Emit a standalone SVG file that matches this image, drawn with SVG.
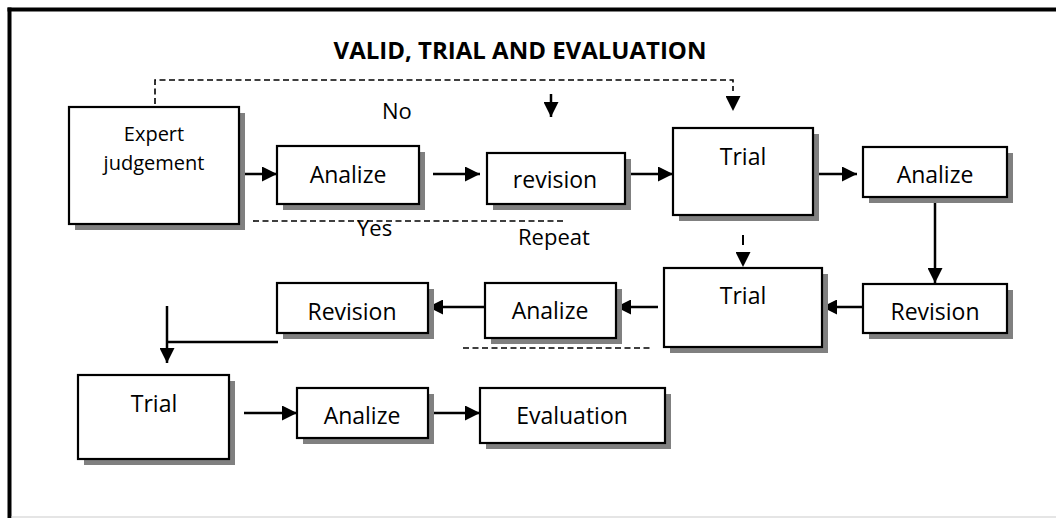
<svg xmlns="http://www.w3.org/2000/svg" width="1056" height="518" viewBox="0 0 1056 518">
  <style>
    .box{fill:#fff;stroke:#000;stroke-width:2.2}
    .shadow{fill:#808080}
    .t{font-family:"Open Sans","Liberation Sans",sans-serif;font-size:23px;fill:#000;text-anchor:middle}
    .ts{font-size:20px}
    .lbl{font-family:"Open Sans","Liberation Sans",sans-serif;font-size:22px;fill:#000}
    .title{font-family:"Open Sans","Liberation Sans",sans-serif;font-size:24px;font-weight:bold;fill:#000;text-anchor:middle}
    .c{fill:none;stroke:#000;stroke-width:2.5}
    .ca{fill:none;stroke:#000;stroke-width:2.5;marker-end:url(#ah)}
    .d{fill:none;stroke:#000;stroke-width:1.6;stroke-dasharray:6 3.5}
    .head{fill:none;stroke:none;marker-end:url(#ah)}
  </style>
  <defs>
    <marker id="ah" viewBox="0 0 15 15" refX="15" refY="7.5" markerWidth="15" markerHeight="15" markerUnits="userSpaceOnUse" orient="auto">
      <path d="M0,0 L15,7.5 L0,15 z" fill="#000"/>
    </marker>
  </defs>
  <rect width="1056" height="518" fill="#fff"/>
  <!-- frame -->
  <line x1="7.5" y1="9.5" x2="1056" y2="9.5" stroke="#000" stroke-width="4"/>
  <line x1="9.5" y1="7.5" x2="9.5" y2="518" stroke="#000" stroke-width="4"/>
  <line x1="11.5" y1="517" x2="1056" y2="517" stroke="#dcdcdc" stroke-width="1.5"/>

  <text class="title" x="520" y="59">VALID, TRIAL AND EVALUATION</text>

  <g id="connectors">
    <line class="ca" x1="242" y1="174" x2="277" y2="174"/>
    <path class="d" d="M155,104 V80 H733 V91"/>
    <path class="head" d="M733,97 V111"/>
    <line class="ca" x1="551" y1="94" x2="551" y2="117"/>
    <line class="ca" x1="433" y1="174" x2="480" y2="174"/>
    <line class="ca" x1="625" y1="174" x2="673" y2="174"/>
    <line class="ca" x1="813" y1="174" x2="857" y2="174"/>
    <line class="ca" x1="935" y1="197" x2="935" y2="283"/>
    <line class="ca" x1="867" y1="307" x2="822" y2="307"/>
    <line x1="743" y1="235" x2="743" y2="245" stroke="#000" stroke-width="2"/>
    <path class="head" d="M743,252 V267"/>
    <line class="ca" x1="658" y1="307" x2="616" y2="307"/>
    <line class="ca" x1="485" y1="307" x2="428" y2="307"/>
    <line class="c" x1="278" y1="342" x2="167" y2="342"/>
    <line class="ca" x1="167" y1="306" x2="167" y2="363"/>
    <line class="ca" x1="244" y1="413" x2="297" y2="413"/>
    <line class="ca" x1="428" y1="413" x2="480" y2="413"/>
    <line class="d" x1="253" y1="221" x2="565" y2="221"/>
    <line class="d" x1="463" y1="348" x2="653" y2="348"/>
  </g>

  <text class="lbl" x="382" y="119">No</text>
  <text class="lbl" x="357" y="236">Yes</text>
  <text class="lbl" x="518" y="245">Repeat</text>

  <g id="n1">
    <rect class="shadow" x="75" y="113" width="170" height="117"/>
    <rect class="box" x="69" y="107" width="170" height="117"/>
    <text class="t ts" x="154" y="141">Expert</text>
    <text class="t ts" x="154" y="170">judgement</text>
  </g>
  <g id="n2">
    <rect class="shadow" x="283" y="152" width="142" height="58"/>
    <rect class="box" x="277" y="146" width="142" height="58"/>
    <text class="t" x="348" y="183">Analize</text>
  </g>
  <g id="n3">
    <rect class="shadow" x="493" y="159" width="138" height="51"/>
    <rect class="box" x="487" y="153" width="138" height="51"/>
    <text class="t" x="555" y="188">revision</text>
  </g>
  <g id="n4">
    <rect class="shadow" x="679" y="134" width="140" height="87"/>
    <rect class="box" x="673" y="128" width="140" height="87"/>
    <text class="t" x="743" y="165">Trial</text>
  </g>
  <g id="n5">
    <rect class="shadow" x="869" y="153" width="144" height="50"/>
    <rect class="box" x="863" y="147" width="144" height="50"/>
    <text class="t" x="935" y="183">Analize</text>
  </g>
  <g id="n6">
    <rect class="shadow" x="869" y="290" width="144" height="49"/>
    <rect class="box" x="863" y="284" width="144" height="49"/>
    <text class="t" x="935" y="320">Revision</text>
  </g>
  <g id="n7">
    <rect class="shadow" x="670" y="274" width="158" height="79"/>
    <rect class="box" x="664" y="268" width="158" height="79"/>
    <text class="t" x="743" y="304">Trial</text>
  </g>
  <g id="n8">
    <rect class="shadow" x="491" y="289" width="131" height="55"/>
    <rect class="box" x="485" y="283" width="131" height="55"/>
    <text class="t" x="550" y="319">Analize</text>
  </g>
  <g id="n9">
    <rect class="shadow" x="283" y="289" width="151" height="50"/>
    <rect class="box" x="277" y="283" width="151" height="50"/>
    <text class="t" x="352" y="320">Revision</text>
  </g>
  <g id="n10">
    <rect class="shadow" x="84" y="381" width="151" height="84"/>
    <rect class="box" x="78" y="375" width="151" height="84"/>
    <text class="t" x="154" y="412">Trial</text>
  </g>
  <g id="n11">
    <rect class="shadow" x="303" y="394" width="131" height="50"/>
    <rect class="box" x="297" y="388" width="131" height="50"/>
    <text class="t" x="362" y="424">Analize</text>
  </g>
  <g id="n12">
    <rect class="shadow" x="486" y="394" width="185" height="55"/>
    <rect class="box" x="480" y="388" width="185" height="55"/>
    <text class="t" x="572" y="424">Evaluation</text>
  </g>
</svg>
